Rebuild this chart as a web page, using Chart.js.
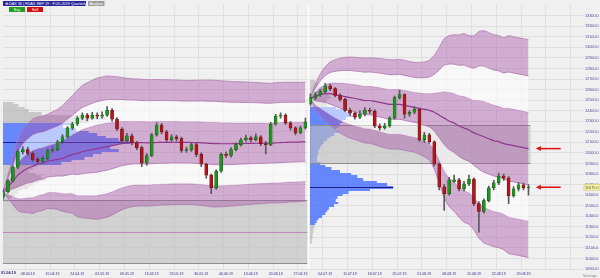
<!DOCTYPE html>
<html>
<head>
<meta charset="utf-8">
<title>FDAX SEP 19 - Quarterly VWAP</title>
<script src="https://cdn.jsdelivr.net/npm/chart.js@4.4.1/dist/chart.umd.min.js"></script>
<style>
  html, body { margin: 0; padding: 0; background: #f0f0f0; }
  #wrap { position: relative; width: 600px; height: 278px; overflow: hidden; }
  #chart { position: absolute; left: 0; top: 0; }
  .tag { position: absolute; transform: scale(0.5); transform-origin: 0 0; font-family: 'Liberation Sans', Arial, sans-serif;
         font-size: 7.6px; line-height: 10px; height: 10px; white-space: nowrap; overflow: hidden; box-sizing: border-box; padding: 0 3px; }
</style>
</head>
<body>
<div id="wrap">
  <canvas id="chart" width="600" height="278"></canvas>
  <div class="tag" style="left:3px;top:1px;width:166px;background:#26269a;color:#fff;">⊕ DAX 30 | FDAX SEP 19 · F.U5.2019 Quarterly</div>
  <div class="tag" style="left:88px;top:1px;width:33px;background:#9c9c9c;color:#fff;">Analyse</div>
  <div class="tag" style="left:9px;top:7px;width:32px;background:#1e9e1e;color:#fff;text-align:center;">Buy</div>
  <div class="tag" style="left:27px;top:7px;width:32px;background:#d01010;color:#fff;text-align:center;">Sell</div>
  <div class="tag" style="left:1px;top:270px;width:40px;color:#1d1d6d;font-weight:bold;padding:0;">01.04.19</div>
  <div class="tag" style="left:583px;top:273px;width:36px;color:#8a8a8a;padding:0;">Vorzüge</div>
</div>
<script>
// === trading days (Apr 1 - Aug 30 2019) ===
const aprDays = [1,2,3,4,5,8,9,10,11,12,15,16,17,18,23,24,25,26,29,30];
const mayDays = [2,3,6,7,8,9,10,13,14,15,16,17,20,21,22,23,24,27,28,29,30,31];
const junDays = [3,4,5,6,7,10,11,12,13,14,17,18,19,20,21,24,25,26,27,28];
const julDays = [1,2,3,4,5,8,9,10,11,12,15,16,17,18,19,22,23,24,25,26,29,30,31];
const augDays = [1,2,5,6,7,8,9,12,13,14,15,16,19,20,21,22,23,26,27,28,29,30];
const futureSlots = 11;

// === FDAX candles ===
const open = [
  11580,11632,11734,11865,12013,12032,11995,11939,11920,11948,
  12023,12032,12106,12153,12237,12274,12330,12358,12330,12358,
  12348,12358,12404,12320,12227,12116,12162,12097,12051,11902,
  11976,12172,12265,12200,12125,12153,12135,12023,12032,12079,
  11986,11893,11790,11670,11827,11986,11976,12032,12079,12125,
  12144,12125,12153,12088,12079,12274,12348,12358,12283,12237,
  12190,12237,
  12470,12525,12553,12581,12637,12609,12544,12507,12404,12376,
  12339,12367,12404,12395,12255,12237,12255,12330,12525,12553,
  12367,12386,12413,12125,12172,12106,11893,11679,11614,11730,
  11744,11660,11707,11753,11520,11446,11548,11670,11716,11781,
  11762,11595,11660,11697,11670];
const high = [
  11660,11750,11880,12030,12060,12055,12010,11960,11970,12040,
  12060,12120,12175,12250,12290,12345,12380,12375,12385,12380,
  12390,12440,12420,12335,12240,12185,12180,12110,12065,11995,
  12185,12285,12280,12215,12175,12170,12150,12055,12095,12090,
  12000,11905,11800,11840,12000,12010,12050,12095,12140,12170,
  12160,12180,12165,12110,12290,12365,12380,12370,12300,12250,
  12255,12330,
  12560,12575,12600,12660,12650,12620,12560,12520,12425,12390,
  12400,12430,12425,12410,12275,12280,12345,12540,12595,12560,
  12400,12440,12425,12195,12185,12115,11905,11700,11770,11790,
  11760,11730,11790,11765,11540,11565,11685,11740,11810,11800,
  11775,11680,11720,11715,11700];
const low = [
  11560,11620,11720,11850,11990,11975,11920,11895,11900,11935,
  12005,12020,12090,12140,12220,12260,12315,12305,12320,12325,
  12330,12345,12300,12210,12095,12100,12075,12030,11870,11885,
  11965,12160,12180,12105,12110,12115,12005,12005,12015,11965,
  11870,11760,11615,11655,11815,11955,11960,12020,12065,12110,
  12105,12115,12070,11990,12070,12260,12330,12270,12215,12170,
  12180,12225,
  12450,12505,12535,12570,12590,12530,12490,12390,12355,12320,
  12325,12350,12375,12240,12215,12225,12245,12320,12510,12330,
  12345,12370,12110,12100,12090,11875,11650,11455,11600,11720,
  11640,11640,11690,11500,11250,11430,11535,11650,11700,11740,
  11520,11580,11640,11650,11600];
const close = [
  11632,11734,11865,12013,12032,11995,11939,11920,11948,12023,
  12032,12106,12153,12237,12274,12330,12358,12330,12358,12348,
  12358,12404,12320,12227,12116,12162,12097,12051,11902,11976,
  12172,12265,12200,12125,12153,12135,12023,12032,12079,11986,
  11893,11790,11670,11827,11986,11976,12032,12079,12125,12144,
  12125,12153,12088,12079,12274,12348,12358,12283,12237,12190,
  12237,12293,
  12525,12553,12581,12637,12609,12544,12507,12404,12376,12339,
  12367,12404,12395,12255,12237,12255,12330,12525,12553,12367,
  12386,12413,12125,12172,12106,11893,11679,11614,11744,11744,
  11660,11707,11753,11520,11446,11548,11670,11716,11781,11762,
  11595,11660,11697,11670,11675];

// === quarterly VWAP + standard deviation ===
const q2Start = 0;
const q2Vwap = [
  11632,11679,11734,11790,11827,11855,11874,11893,11902,11920,
  11930,11939,11948,11967,11986,11995,12013,12023,12032,12041,
  12051,12060,12069,12079,12088,12093,12097,12098,12097,12096,
  12097,12099,12100,12100,12101,12101,12100,12100,12099,12098,
  12096,12093,12090,12088,12087,12087,12087,12088,12089,12090,
  12091,12092,12092,12092,12093,12095,12098,12100,12102,12103,
  12104,12106];
const q2Dev = [
  0,37,74,112,130,140,149,149,149,149,
  153,158,167,177,186,200,209,214,219,223,
  223,223,219,214,209,205,202,201,200,200,
  199,199,198,198,197,197,196,196,196,197,
  198,199,200,200,199,198,197,196,195,194,
  193,192,191,190,189,190,190,190,189,189,
  188,188];
const q3Start = 62;
const q3Vwap = [
  12525,12534,12553,12562,12562,12553,12544,12534,12525,12516,
  12507,12497,12497,12488,12479,12469,12460,12460,12460,12451,
  12441,12432,12423,12413,12404,12386,12358,12330,12302,12283,
  12255,12237,12218,12190,12172,12153,12135,12116,12107,12088,
  12079,12069,12060,12051,12041];
const q3Dev = [
  0,40,65,85,100,110,118,124,128,130,
  132,134,135,137,139,140,141,141,142,142,
  142,142,145,150,158,180,214,251,270,279,
  288,298,298,307,326,335,335,335,335,335,
  344,344,344,344,344];

// === volume profiles (25 pt rows, top row first) ===
const profileStep = 25;
const q2ProfileTop = 12475;
const q2ProfileVol = [12,18,25,30,45,90,120,100,80,70,85,100,110,120,135,148,130,125,135,115,
                      105,95,80,68,40,35,30,38,45,50,42,35,30,22,18,14,10,6];
const q2ValueArea = [11890, 12285];
const q2Poc = 12100;
const q3ProfileTop = 12675;
const q3ProfileVol = [6,10,14,18,20,22,24,20,18,20,30,40,48,50,42,38,35,33,30,33,
                      28,24,20,16,14,12,10,10,9,8,8,12,18,25,35,48,55,62,78,90,
                      97,70,45,38,32,30,33,28,22,20,18,14,10,8,6,5,4,4,3,3,2,2];
const q3ValueArea = [11320, 12440];
const q3Poc = 11675;

// previous quarter value areas
const prevVaFirst = [0, 62];
const prevVaLast = [61, 106];
const prevVaHigh = [11558, 12265];
const prevVaLow = [10953, 11902];
const prevVaPoc = [11251, null];

const priceTicks = [10900,11000,11100,11200,11300,11400,11500,11600,11700,11800,11900,12000,12100,
                    12200,12300,12400,12500,12600,12700,12800,12900,13000,13100,13200,13300];

// ---------------------------------------------------------------
const fmt = (d, m) => String(d).padStart(2, '0') + '.' + m + '.19';
const dateLabels = [].concat(
  aprDays.map(d => fmt(d, '04')), mayDays.map(d => fmt(d, '05')), junDays.map(d => fmt(d, '06')),
  julDays.map(d => fmt(d, '07')), augDays.map(d => fmt(d, '08')));
const nBars = dateLabels.length;
const labels = dateLabels.concat(new Array(futureSlots).fill(''));
const nSlots = labels.length;

const bandFill = 'rgba(168, 84, 168, 0.42)';
const gapFill = 'rgba(255, 255, 255, 0.55)';
const bandEdge = '#b27ab2';
const vwapColor = '#84207f';

function pad(arr, start) {
  const out = new Array(nSlots).fill(null);
  arr.forEach((v, i) => { out[start + i] = v; });
  return out;
}

function bandSets(vwap, dev, start) {
  const ks = [3, 2, 1, 0, -1, -2, -3];
  const fills = [
    { target: '+1', above: bandFill, below: bandFill },
    { target: '+1', above: gapFill, below: gapFill },
    { target: '+2', above: bandFill, below: bandFill },
    false,
    { target: '+1', above: gapFill, below: gapFill },
    { target: '+1', above: bandFill, below: bandFill },
    false
  ];
  return ks.map((k, j) => ({
    type: 'line',
    xAxisID: 'x', yAxisID: 'y',
    order: 5,
    data: pad(vwap.map((v, i) => v + k * dev[i]), start),
    borderColor: k === 0 ? vwapColor : bandEdge,
    borderWidth: k === 0 ? 1.2 : 0.8,
    pointRadius: 0,
    tension: 0.25,
    spanGaps: false,
    fill: fills[j]
  }));
}

const wickData = pad(low.map((l, i) => [l, high[i]]), 0);
const bodyData = pad(open.map((o, i) => [Math.min(o, close[i]), Math.max(o, close[i]) + (o === close[i] ? 3 : 0)]), 0);
const bodyColor = open.map((o, i) => (close[i] >= o ? '#1f951f' : '#b3161a'));
const bodyEdge = open.map((o, i) => (close[i] >= o ? '#0d560d' : '#650a0c'));

// overlay: volume profiles, previous value areas, arrows, price tag
const overlay = {
  id: 'overlay',
  beforeDraw(chart) {
    const c = chart.ctx;
    c.save();
    c.fillStyle = '#f0f0f0';
    c.fillRect(0, 0, chart.width, chart.height);
    c.restore();
  },
  beforeDatasetsDraw(chart) {
    const { ctx, chartArea: a, scales: { x, y, xv } } = chart;
    ctx.save();
    ctx.beginPath();
    ctx.rect(a.left, a.top, a.right - a.left, a.bottom - a.top);
    ctx.clip();

    const profiles = [
      [q2Start, q2ProfileTop, q2ProfileVol, q2ValueArea, q2Poc],
      [q3Start, q3ProfileTop, q3ProfileVol, q3ValueArea, q3Poc]
    ];
    profiles.forEach(([start, top, vols, va, poc]) => {
      const x0 = Math.round(x.getPixelForValue(start));
      vols.forEach((v, i) => {
        const p = top - i * profileStep;
        const y1 = Math.round(y.getPixelForValue(p + profileStep / 2));
        const y2 = Math.round(y.getPixelForValue(p - profileStep / 2));
        const w = xv.getPixelForValue(v) - xv.getPixelForValue(0);
        ctx.fillStyle = (p >= va[0] && p <= va[1]) ? 'rgba(72, 112, 255, 0.82)' : 'rgba(175, 175, 175, 0.6)';
        ctx.fillRect(x0, y1, w, y2 - y1);
      });
      const pocIdx = Math.round((top - poc) / profileStep);
      const py = Math.round(y.getPixelForValue(poc)) + 0.5;
      ctx.strokeStyle = '#1c1c8c';
      ctx.lineWidth = 1;
      ctx.beginPath();
      ctx.moveTo(x0, py);
      ctx.lineTo(x0 + xv.getPixelForValue(vols[pocIdx]) - xv.getPixelForValue(0), py);
      ctx.stroke();
    });

    prevVaFirst.forEach((first, k) => {
      const xa = x.getPixelForValue(first);
      const xb = x.getPixelForValue(prevVaLast[k] + 0.4);
      const ya = Math.round(y.getPixelForValue(prevVaHigh[k])) + 0.5;
      const yb = Math.round(y.getPixelForValue(prevVaLow[k])) + 0.5;
      ctx.fillStyle = 'rgba(190, 190, 190, 0.62)';
      ctx.fillRect(xa, ya, xb - xa, yb - ya);
      ctx.strokeStyle = '#8e8e8e';
      ctx.lineWidth = 1;
      ctx.beginPath();
      ctx.moveTo(xa, ya); ctx.lineTo(xb, ya);
      ctx.moveTo(xa, yb); ctx.lineTo(xb, yb);
      ctx.stroke();
      if (prevVaPoc[k] !== null) {
        const yp = Math.round(y.getPixelForValue(prevVaPoc[k])) + 0.5;
        ctx.strokeStyle = '#c08ac0';
        ctx.beginPath(); ctx.moveTo(xa, yp); ctx.lineTo(xb, yp); ctx.stroke();
      }
    });
    ctx.restore();
  },
  afterDraw(chart) {
    const { ctx, chartArea: a, scales: { x, y } } = chart;
    ctx.save();
    // quarter separator
    const xs = Math.round(x.getPixelForValue(q3Start - 0.5)) + 0.5;
    ctx.strokeStyle = '#ffffff';
    ctx.lineWidth = 1.5;
    ctx.beginPath(); ctx.moveTo(xs, a.top); ctx.lineTo(xs, a.bottom); ctx.stroke();

    // red arrows at VWAP and last price
    const levels = [q3Vwap[q3Vwap.length - 1], close[nBars - 1]];
    const xh = x.getPixelForValue(nBars + 0.5);
    const xt = x.getPixelForValue(nBars + 5.5);
    ctx.strokeStyle = '#e01010';
    ctx.fillStyle = '#e01010';
    ctx.lineWidth = 1.5;
    levels.forEach(v => {
      const yy = y.getPixelForValue(v);
      ctx.beginPath(); ctx.moveTo(xh + 4, yy); ctx.lineTo(xt, yy); ctx.stroke();
      ctx.beginPath(); ctx.moveTo(xh, yy); ctx.lineTo(xh + 5, yy - 2.5); ctx.lineTo(xh + 5, yy + 2.5); ctx.closePath(); ctx.fill();
    });

    // last price tag
    const last = close[nBars - 1];
    const yl = y.getPixelForValue(last);
    ctx.fillStyle = '#fbf7a8';
    ctx.strokeStyle = '#c9c27a';
    ctx.lineWidth = 0.6;
    ctx.fillRect(a.right + 1, yl - 3, 16, 6);
    ctx.strokeRect(a.right + 1, yl - 3, 16, 6);
    ctx.fillStyle = '#444';
    ctx.font = '3.9px "Liberation Sans", Arial, sans-serif';
    ctx.textBaseline = 'middle';
    ctx.fillText(last.toFixed(1), a.right + 2, yl + 0.2);
    ctx.restore();
  }
};

new Chart(document.getElementById('chart'), {
  type: 'bar',
  data: {
    labels: labels,
    datasets: [
      {
        type: 'bar', label: 'wick', xAxisID: 'x', yAxisID: 'y', order: 1,
        data: wickData, backgroundColor: '#5a5a5a', barThickness: 1, grouped: false
      },
      {
        type: 'bar', label: 'body', xAxisID: 'x', yAxisID: 'y', order: 0,
        data: bodyData, backgroundColor: bodyColor, borderColor: bodyEdge, borderWidth: 0.5,
        borderSkipped: false, barThickness: 3, grouped: false
      },
      ...bandSets(q2Vwap, q2Dev, q2Start),
      ...bandSets(q3Vwap, q3Dev, q3Start)
    ]
  },
  options: {
    responsive: false,
    devicePixelRatio: 1,
    animation: false,
    layout: { padding: { left: 3, right: 0, top: 0, bottom: 0 } },
    plugins: { legend: { display: false }, tooltip: { enabled: false } },
    scales: {
      x: {
        type: 'category',
        offset: false,
        border: { display: false },
        grid: { color: ctx => (ctx.index % 5 === 0 ? '#dfdfdf' : 'transparent'), drawTicks: false },
        ticks: {
          autoSkip: false, maxRotation: 0, padding: 3,
          color: '#2e2e8a',
          font: { size: 3.6, family: '"Liberation Sans", Arial, sans-serif' },
          callback: (v, i) => (i > 0 && i % 5 === 0 && i < nBars ? dateLabels[i] : '')
        },
        afterFit: s => { s.height = 9; }
      },
      y: {
        position: 'right',
        min: 10900, max: 13409,
        border: { display: false },
        grid: { color: '#dfdfdf', drawTicks: false },
        afterBuildTicks: s => { s.ticks = priceTicks.map(v => ({ value: v })); },
        ticks: {
          padding: 2,
          color: '#4a4aa6',
          font: { size: 3.8, family: '"Liberation Sans", Arial, sans-serif' },
          callback: v => Number(v).toFixed(1)
        },
        afterFit: s => { s.width = 17; }
      },
      xv: { type: 'linear', display: false, min: 0, max: 580 }
    }
  },
  plugins: [overlay]
});
</script>
</body>
</html>
